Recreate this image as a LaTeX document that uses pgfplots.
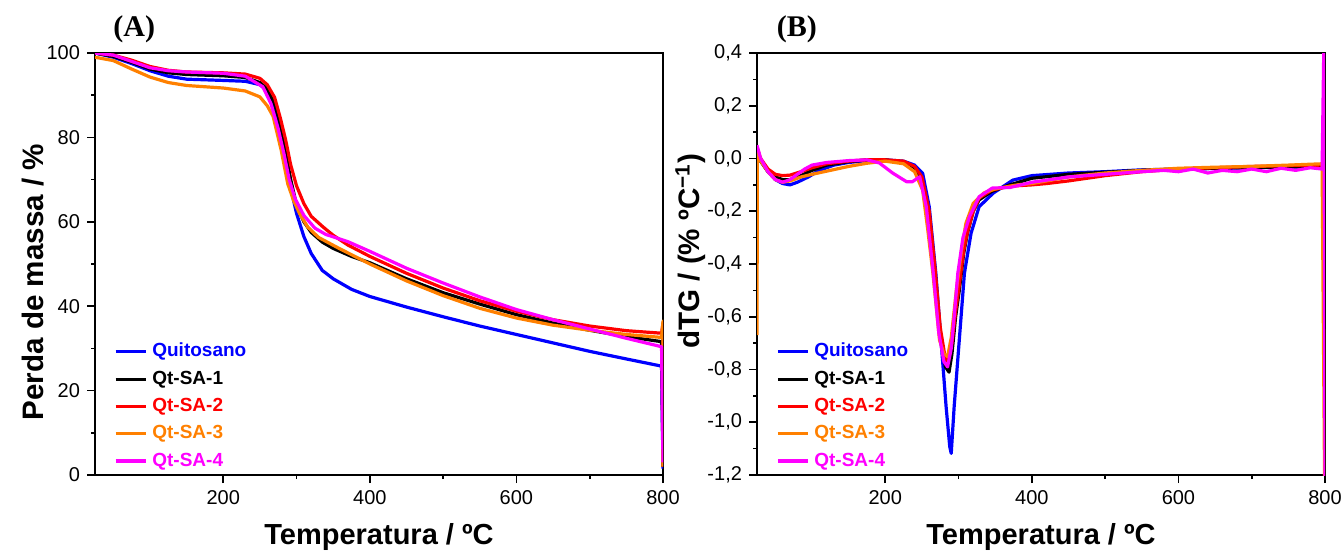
\documentclass[border=0pt]{standalone}
\usepackage{pgfplots}
\pgfplotsset{compat=1.18}
\usepackage{fontspec}
\setmainfont{Liberation Sans}
\newfontfamily\serifbf{Liberation Serif}
\definecolor{qblue}{RGB}{0,0,255}
\definecolor{qred}{RGB}{255,0,0}
\definecolor{qorange}{RGB}{255,128,0}
\definecolor{qmag}{RGB}{255,0,255}
\pgfplotsset{
  myaxis/.style={
    scale only axis, width=284pt, height=211pt, clip mode=individual,
    xmin=25, xmax=800, xtick={200,400,600,800}, minor x tick num=1,
    xtick pos=left, ytick pos=left,
    tick align=outside, major tick length=4pt, minor tick length=2pt,
    axis line style={line width=0.9pt},
    tick style={line width=0.8pt, black},
    tick label style={font=\fontsize{10}{12}\selectfont},
    /pgf/number format/assume math mode=true,
    xlabel={\bfseries Temperatura / ºC},
    xlabel style={font=\fontsize{14.5}{17}\selectfont, at={(axis description cs:0.5,0)}, anchor=base, yshift=-34.5pt},
    ylabel style={font=\fontsize{14.8}{17}\selectfont, anchor=base},
    legend style={draw=none, fill=none, at={(rel axis cs:0.033,0.318)}, anchor=north west, inner sep=0pt,
      font=\bfseries\fontsize{9.5}{11}\selectfont, row sep=3.5pt, column sep=1.5pt, nodes={inner sep=1pt}},
    legend cell align=left,
    legend image code/.code={\draw[#1,line width=1.6pt] (0pt,0pt) -- (15pt,0pt);},
    every axis plot/.append style={line width=1.6pt, line join=round},
  }
}
\begin{document}
\begin{tikzpicture}
\useasboundingbox (0,0) rectangle (672pt,276.5pt);
% ---------------- Panel A ----------------
\begin{axis}[myaxis, at={(47.5pt,39pt)}, anchor=south west,
  ymin=0, ymax=100, ytick={0,20,40,60,80,100}, minor y tick num=1,
  ylabel={\bfseries Perda de massa / \%}, ylabel style={at={(axis description cs:-0.0915,0.457)}}]
\addplot[qblue] coordinates {(25,100)(50,99)(75,97.5)(100,95.8)(125,94.5)(150,93.8)(200,93.5)(230,93.3)(250,92.5)(260,91)(270,87.5)(278,82)(285,75)(292,68)(300,62)(310,56.5)(320,52.5)(335,48.5)(350,46.5)(375,44)(400,42.3)(450,39.8)(500,37.5)(550,35.3)(600,33.3)(650,31.3)(700,29.3)(750,27.5)(798,25.8)(800,1.5)};
\addlegendentry{\textcolor{qblue}{Quitosano}}
\addplot[black] coordinates {(25,100)(50,99.2)(75,97.8)(100,96.2)(125,95.3)(150,94.9)(200,94.6)(230,94.2)(250,93)(260,91.5)(270,88)(278,83)(285,76.5)(292,70)(300,64)(310,60)(320,57.5)(335,55.2)(350,53.7)(375,51.8)(400,50.3)(450,46.5)(500,43.2)(550,40.5)(600,38)(650,36)(700,34.3)(750,32.8)(798,31.6)(800,2)};
\addlegendentry{\textcolor{black}{Qt-SA-1}}
\addplot[qred] coordinates {(25,100)(50,99.5)(75,98.3)(100,96.8)(125,95.9)(150,95.5)(200,95.3)(230,95)(250,94)(260,92.5)(270,89.5)(278,84.5)(285,79.5)(292,73.5)(300,68.5)(310,64.3)(320,61.3)(336,58.8)(350,56.8)(370,54.5)(400,51.8)(450,47.8)(500,44.3)(550,41.3)(600,38.8)(650,36.8)(700,35.3)(750,34.2)(798,33.6)(800,36)(800,2)};
\addlegendentry{\textcolor{qred}{Qt-SA-2}}
\addplot[qorange] coordinates {(25,99)(50,98.2)(75,96.2)(100,94.3)(125,93)(150,92.3)(200,91.7)(230,91)(250,89.6)(260,87.5)(268,85)(279,77)(288,69)(296,65)(304,62)(315,58.8)(330,56.3)(358,53.7)(400,50)(450,46)(500,42.5)(550,39.5)(600,37.2)(650,35.5)(700,34.3)(750,33.3)(798,32.6)(800,36.5)(800,2)};
\addlegendentry{\textcolor{qorange}{Qt-SA-3}}
\addplot[qmag] coordinates {(25,100)(50,99.5)(75,98)(100,96.5)(125,95.8)(150,95.5)(200,95.2)(230,94.5)(254,92)(265,88)(275,82)(283,76)(290,70)(298,65.5)(310,61.5)(325,58.5)(340,57)(370,55.3)(400,53)(450,49)(500,45.5)(550,42.2)(600,39.2)(650,36.8)(700,34.6)(750,32.4)(798,30.4)(800,3)};
\addlegendentry{\textcolor{qmag}{Qt-SA-4}}
\node[font=\serifbf\bfseries\fontsize{15}{18}\selectfont] at (rel axis cs:0.069,1) [yshift=12pt] {(A)};
\end{axis}
% ---------------- Panel B ----------------
\begin{axis}[myaxis, at={(378.5pt,39pt)}, anchor=south west,
  ymin=-1.2, ymax=0.4, ytick={-1.2,-1.0,-0.8,-0.6,-0.4,-0.2,0,0.2,0.4}, minor y tick num=1,
  yticklabel style={/pgf/number format/.cd, use comma, fixed, fixed zerofill, precision=1},
  ylabel={\bfseries dTG / (\% ºC\textsuperscript{−1})}, ylabel style={at={(axis description cs:-0.1004,0.53)}}]
\addplot[qblue] coordinates {(25,0.04)(30,-0.01)(40,-0.05)(50,-0.08)(60,-0.095)(70,-0.1)(80,-0.09)(95,-0.07)(110,-0.045)(130,-0.025)(150,-0.015)(175,-0.008)(200,-0.005)(225,-0.01)(240,-0.025)(251,-0.056)(260,-0.183)(269,-0.435)(276,-0.688)(283,-0.941)(288,-1.093)(290,-1.118)(294,-0.941)(301,-0.688)(308,-0.435)(317,-0.284)(328,-0.183)(347,-0.132)(374,-0.082)(400,-0.065)(450,-0.055)(500,-0.05)(550,-0.043)(600,-0.04)(650,-0.038)(700,-0.035)(750,-0.033)(796,-0.03)};
\addlegendentry{\textcolor{qblue}{Quitosano}}
\addplot[black] coordinates {(25,0.04)(30,-0.01)(40,-0.05)(50,-0.07)(60,-0.08)(70,-0.08)(85,-0.065)(100,-0.045)(120,-0.025)(150,-0.012)(175,-0.005)(200,-0.005)(225,-0.015)(240,-0.035)(250,-0.08)(260,-0.22)(268,-0.45)(275,-0.66)(282,-0.79)(287,-0.81)(291,-0.74)(296,-0.6)(301,-0.5)(307,-0.36)(312,-0.284)(320,-0.2)(328,-0.157)(345,-0.125)(370,-0.1)(400,-0.075)(450,-0.06)(500,-0.052)(550,-0.045)(600,-0.04)(650,-0.037)(700,-0.034)(750,-0.032)(796,-0.03)};
\addlegendentry{\textcolor{black}{Qt-SA-1}}
\addplot[qred] coordinates {(25,0.04)(30,0.0)(40,-0.04)(50,-0.06)(60,-0.065)(70,-0.063)(85,-0.05)(100,-0.035)(120,-0.02)(150,-0.01)(175,-0.005)(200,-0.005)(225,-0.01)(240,-0.03)(250,-0.07)(260,-0.2)(268,-0.42)(275,-0.64)(282,-0.76)(286,-0.77)(291,-0.7)(296,-0.58)(301,-0.48)(307,-0.35)(312,-0.28)(320,-0.2)(328,-0.15)(345,-0.12)(370,-0.105)(400,-0.1)(420,-0.095)(450,-0.085)(500,-0.065)(550,-0.05)(600,-0.04)(650,-0.035)(700,-0.03)(750,-0.027)(796,-0.025)};
\addlegendentry{\textcolor{qred}{Qt-SA-2}}
\addplot[qorange] coordinates {(25,-0.67)(25.5,0.04)(30,-0.01)(40,-0.05)(50,-0.08)(60,-0.09)(70,-0.085)(85,-0.07)(100,-0.06)(125,-0.045)(150,-0.03)(175,-0.018)(200,-0.01)(225,-0.02)(240,-0.05)(251,-0.12)(258,-0.27)(265,-0.435)(274,-0.688)(280,-0.74)(285,-0.751)(290,-0.68)(297,-0.499)(304,-0.35)(310,-0.246)(320,-0.17)(335,-0.13)(350,-0.115)(380,-0.1)(400,-0.095)(450,-0.07)(500,-0.055)(550,-0.045)(600,-0.037)(650,-0.033)(700,-0.03)(750,-0.025)(796,-0.02)(799.5,-1.25)};
\addlegendentry{\textcolor{qorange}{Qt-SA-3}}
\addplot[qmag] coordinates {(25,0.05)(30,0.0)(40,-0.05)(50,-0.08)(60,-0.09)(70,-0.08)(80,-0.06)(90,-0.04)(100,-0.025)(120,-0.015)(150,-0.008)(175,-0.005)(192,-0.017)(210,-0.055)(229,-0.088)(237,-0.088)(247,-0.069)(256,-0.183)(265,-0.42)(273,-0.66)(280,-0.77)(285,-0.79)(290,-0.72)(294,-0.6)(299,-0.435)(306,-0.3)(315,-0.22)(328,-0.145)(346,-0.112)(370,-0.11)(400,-0.09)(450,-0.07)(500,-0.06)(550,-0.05)(580,-0.045)(600,-0.05)(620,-0.04)(640,-0.055)(660,-0.045)(680,-0.05)(700,-0.04)(720,-0.05)(740,-0.037)(760,-0.045)(780,-0.035)(796,-0.04)(798.5,0.45)(800,-1.25)};
\addlegendentry{\textcolor{qmag}{Qt-SA-4}}
\node[font=\serifbf\bfseries\fontsize{15}{18}\selectfont] at (rel axis cs:0.070,1) [yshift=12pt] {(B)};
\end{axis}
\end{tikzpicture}
\end{document}
